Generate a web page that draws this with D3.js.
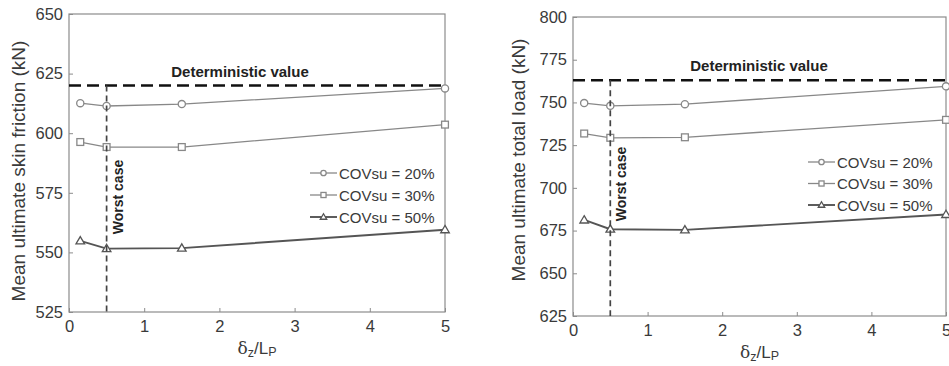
<!DOCTYPE html>
<html>
<head>
<meta charset="utf-8">
<script src="https://cdn.jsdelivr.net/npm/d3@7"></script>
<style>
  html, body { margin: 0; padding: 0; background: #fff; }
  svg { display: block; font-family: "Liberation Sans", Arial, sans-serif; }
</style>
</head>
<body>
<svg id="chart" width="949" height="366"></svg>
<script>
// Normalised offset δz/LP at which each case was computed
const offsets = [0.15, 0.5, 1.5, 5];
const seriesNames = ["COVsu = 20%", "COVsu = 30%", "COVsu = 50%"];

// Mean ultimate skin friction (kN)
const friction20 = [612.6, 611.4, 612.2, 618.8];
const friction30 = [596.3, 594.2, 594.2, 603.6];
const friction50 = [554.8, 551.6, 551.8, 559.5];
const frictionDeterministic = 620;
const frictionTicks = [525, 550, 575, 600, 625, 650];

// Mean ultimate total load (kN)
const load20 = [749.6, 748.0, 749.0, 759.4];
const load30 = [731.8, 729.3, 729.6, 739.8];
const load50 = [681.2, 675.8, 675.4, 684.4];
const loadDeterministic = 763;
const loadTicks = [625, 650, 675, 700, 725, 750, 775, 800];

const xTicks = [0, 1, 2, 3, 4, 5];
const worstCase = 0.5;

const styles = [
  { color: "#888888", width: 1.3, marker: "circle" },
  { color: "#888888", width: 1.3, marker: "square" },
  { color: "#555555", width: 1.9, marker: "triangle" }
];

const svg = d3.select("#chart");

function panel(opts) {
  const g = svg.append("g");
  const x = d3.scaleLinear().domain([0, 5]).range([opts.left, opts.right]);
  const y = d3.scaleLinear().domain(opts.yDomain).range([opts.bottom, opts.top]);

  // frame
  g.append("rect")
    .attr("x", opts.left).attr("y", opts.top)
    .attr("width", opts.right - opts.left).attr("height", opts.bottom - opts.top)
    .attr("fill", "none").attr("stroke", "#8c8c8c").attr("stroke-width", 1.2);

  // axes with inward ticks
  const xAxis = d3.axisBottom(x).tickValues(xTicks).tickSize(-4).tickPadding(8).tickFormat(d3.format("d"));
  const yAxis = d3.axisLeft(y).tickValues(opts.yTicks).tickSize(-4).tickPadding(6).tickFormat(d3.format("d"));
  const gx = g.append("g").attr("transform", `translate(0,${opts.bottom})`).call(xAxis);
  const gy = g.append("g").attr("transform", `translate(${opts.left},0)`).call(yAxis);
  [gx, gy].forEach(a => {
    a.select(".domain").remove();
    a.selectAll(".tick line").attr("stroke", "#8c8c8c");
    a.selectAll(".tick text").attr("fill", "#3a3a3a").style("font-size", "16.5px")
      .style("font-family", "'Liberation Sans', Arial, sans-serif");
  });

  // deterministic reference line
  g.append("line")
    .attr("x1", x(0)).attr("x2", x(5))
    .attr("y1", y(opts.deterministic)).attr("y2", y(opts.deterministic))
    .attr("stroke", "#111").attr("stroke-width", 2.6).attr("stroke-dasharray", "12,6");
  g.append("text")
    .attr("x", opts.detLabelX).attr("y", y(opts.deterministic) - 9)
    .attr("text-anchor", "middle").attr("font-weight", "bold")
    .attr("font-size", "15px").attr("fill", "#222")
    .text("Deterministic value");

  // series
  const line = d3.line().x((d, i) => x(offsets[i])).y(d => y(d));
  opts.series.forEach((vals, k) => {
    const s = styles[k];
    g.append("path").datum(vals).attr("d", line)
      .attr("fill", "none").attr("stroke", s.color).attr("stroke-width", s.width);
    vals.forEach((v, i) => drawMarker(g, s, x(offsets[i]), y(v)));
  });

  // worst-case offset marker
  g.append("line")
    .attr("x1", x(worstCase)).attr("x2", x(worstCase))
    .attr("y1", y(opts.deterministic)).attr("y2", opts.bottom)
    .attr("stroke", "#444").attr("stroke-width", 1.7).attr("stroke-dasharray", "6,4");
  g.append("text")
    .attr("transform", `translate(${x(worstCase) + 16},${opts.worstY}) rotate(-90)`)
    .attr("text-anchor", "middle").attr("font-weight", "bold")
    .attr("font-size", "14px").attr("fill", "#222")
    .text("Worst case");

  // legend
  seriesNames.forEach((name, k) => {
    const s = styles[k];
    const ly = opts.legendY + k * opts.legendStep;
    g.append("line").attr("x1", opts.legendX).attr("x2", opts.legendX + 27)
      .attr("y1", ly).attr("y2", ly)
      .attr("stroke", s.color).attr("stroke-width", s.width);
    drawMarker(g, s, opts.legendX + 13.5, ly, 0.75);
    g.append("text").attr("x", opts.legendX + 29).attr("y", ly + 5.5)
      .attr("font-size", "15px").attr("fill", "#3a3a3a").text(name);
  });

  // axis titles
  g.append("text")
    .attr("transform", `translate(${opts.yLabelX},${opts.yLabelY}) rotate(-90)`)
    .attr("text-anchor", "middle").attr("font-size", "19px").attr("fill", "#3a3a3a")
    .text(opts.yLabel);

  const xl = g.append("text")
    .attr("x", (opts.left + opts.right) / 2).attr("y", opts.bottom + 42)
    .attr("text-anchor", "middle").attr("font-size", "17px").attr("fill", "#3a3a3a")
    .style("font-family", "'DejaVu Serif', 'Liberation Serif', serif");
  xl.append("tspan").text("δ");
  xl.append("tspan").attr("font-size", "12.5px").attr("dy", 3)
    .style("font-family", "'Liberation Sans', Arial, sans-serif").text("z");
  xl.append("tspan").attr("dy", -3)
    .style("font-family", "'Liberation Sans', Arial, sans-serif").text("/L");
  xl.append("tspan").attr("font-size", "12.5px").attr("dy", 2)
    .style("font-family", "'Liberation Sans', Arial, sans-serif").text("P");
}

function drawMarker(g, s, cx, cy, scale = 1) {
  const common = el => el.attr("fill", "#fff").attr("stroke", s.color).attr("stroke-width", 1.3);
  if (s.marker === "circle") {
    common(g.append("circle").attr("cx", cx).attr("cy", cy).attr("r", 3.6 * scale));
  } else if (s.marker === "square") {
    const h = 3.4 * scale;
    common(g.append("rect").attr("x", cx - h).attr("y", cy - h).attr("width", 2 * h).attr("height", 2 * h));
  } else {
    const h = 4.3 * scale;
    common(g.append("path").attr("d",
      `M${cx},${cy - h}L${cx + h},${cy + h * 0.7}L${cx - h},${cy + h * 0.7}Z`));
  }
}

panel({
  left: 69, right: 445, top: 14, bottom: 312,
  yDomain: [525, 650], yTicks: frictionTicks,
  deterministic: frictionDeterministic,
  series: [friction20, friction30, friction50],
  detLabelX: 240, worstY: 197,
  legendX: 310, legendY: 173, legendStep: 22,
  yLabelX: 25, yLabelY: 171, yLabel: "Mean ultimate skin friction (kN)"
});

panel({
  left: 573, right: 946, top: 17, bottom: 316,
  yDomain: [625, 800], yTicks: loadTicks,
  deterministic: loadDeterministic,
  series: [load20, load30, load50],
  detLabelX: 759, worstY: 184,
  legendX: 808, legendY: 162, legendStep: 21.5,
  yLabelX: 525, yLabelY: 160, yLabel: "Mean ultimate total load (kN)"
});
</script>
</body>
</html>
